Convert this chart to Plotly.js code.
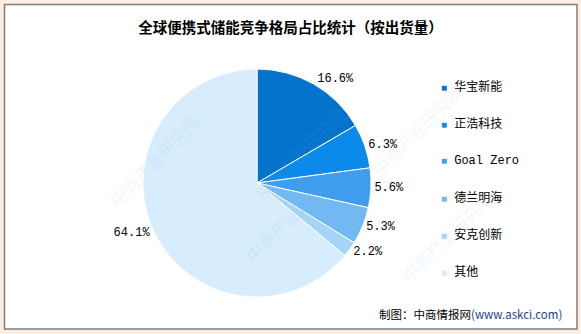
<!DOCTYPE html>
<html><head><meta charset="utf-8">
<script src="https://cdn.plot.ly/plotly-3.0.1.min.js"></script>
<style>html,body{margin:0;padding:0;background:#fdeee3;}#chart{width:581px;height:334px;}</style>
</head><body><div id="chart"></div>
<script>
const titleText = '全球便携式储能竞争格局占比统计（按出货量）';
const companies = ['华宝新能', '正浩科技', 'Goal Zero', '德兰明海', '安克创新', '其他'];
const shares = [16.6, 6.3, 5.6, 5.3, 2.2, 64.1];
const sliceColors = ['#0373cc', '#0b8ae9', '#3e9ded', '#72b9f3', '#a4d4f8', '#d7ecfc'];
const sourceText = '制图：中商情报网';
const sourceUrl = '(www.askci.com)';

const W = 581, H = 334;
const px = x => x / W, py = y => 1 - y / H;

const annotations = [];
// legend built from the category list
const legTop = 87, legStep = 37;
companies.forEach((c, i) => {
  annotations.push({
    xref: 'paper', yref: 'paper', x: px(439), y: py(legTop + i * legStep),
    xanchor: 'left', yanchor: 'middle', showarrow: false,
    text: '<span style="color:' + sliceColors[i] + ';font-size:10px">■</span> ' + c,
    font: {family: 'Liberation Mono, Noto Sans CJK SC', size: 12, color: '#000'}
  });
});
// source
annotations.push({
  xref: 'paper', yref: 'paper', x: px(564), y: py(314), xanchor: 'right', yanchor: 'middle',
  showarrow: false,
  text: sourceText + '<span style="color:#1f3f8f">' + sourceUrl + '</span>',
  font: {family: 'Noto Sans CJK SC', size: 11.5, color: '#000'}
});
// watermarks
const wm = [[100,160],[300,100],[470,130],[290,270],[500,290]];
wm.forEach(p => annotations.push({
  xref: 'paper', yref: 'paper', x: px(p[0]), y: py(p[1]), showarrow: false,
  text: '中商产业研究院', textangle: -45,
  font: {family: 'Noto Sans CJK SC', size: 17, color: 'rgba(120,180,230,0.13)'}
}));

const data = [{
  type: 'pie',
  labels: companies,
  values: shares,
  text: shares.map(v => v.toFixed(1) + '%'),
  textinfo: 'text',
  textposition: 'outside',
  sort: false,
  direction: 'clockwise',
  rotation: 0,
  marker: {colors: sliceColors, line: {color: '#ffffff', width: 1}},
  textfont: {family: 'Liberation Mono, Noto Sans CJK SC', size: 12, color: '#000'},
  showlegend: false,
  hoverinfo: 'none',
  domain: {x: [px(143), px(371)], y: [py(297), py(69)]}
}];

const layout = {
  width: W, height: H,
  margin: {l: 0, r: 0, t: 0, b: 0},
  paper_bgcolor: '#fdeee3',
  plot_bgcolor: 'rgba(0,0,0,0)',
  title: {text: '<b>' + titleText + '</b>', x: 0.5, xanchor: 'center', y: py(28), yanchor: 'middle',
          font: {family: 'Noto Sans CJK SC', size: 14.5, color: '#000'}},
  shapes: [{type: 'rect', xref: 'paper', yref: 'paper', x0: px(4.5), x1: px(577), y0: py(329), y1: py(4.5),
            fillcolor: '#ffffff', line: {color: '#7f7f7f', width: 1.5}, layer: 'below'}],
  annotations: annotations
};
Plotly.newPlot('chart', data, layout, {staticPlot: true});
</script></body></html>
